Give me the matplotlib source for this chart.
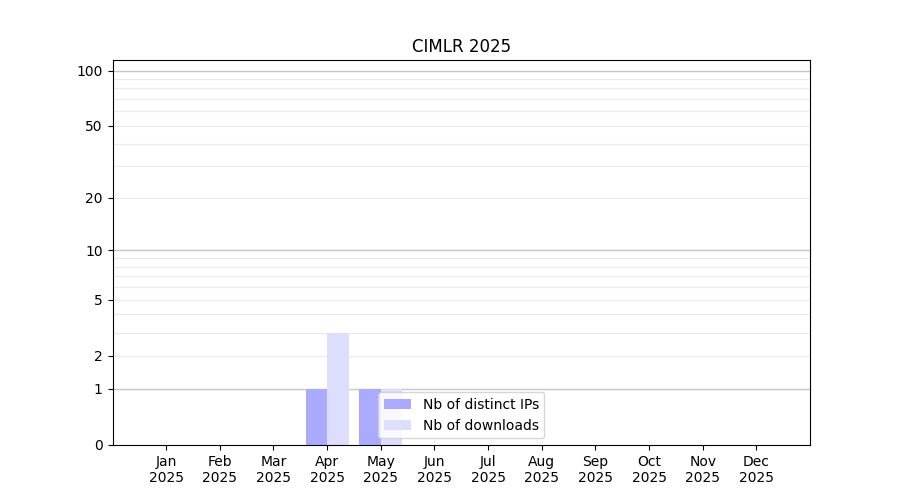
import numpy as np
import matplotlib
matplotlib.use("Agg")
import matplotlib.pyplot as plt

months = ["Jan", "Feb", "Mar", "Apr", "May", "Jun", "Jul", "Aug", "Sep", "Oct", "Nov", "Dec"]
year = "2025"
distinct_ips = [0, 0, 0, 1, 1, 0, 0, 0, 0, 0, 0, 0]
downloads = [0, 0, 0, 3, 1, 0, 0, 0, 0, 0, 0, 0]
ytick_vals = [0, 1, 2, 5, 10, 20, 50, 100]
major_grid = [1, 10, 100]
minor_grid = [2, 3, 4, 5, 6, 7, 8, 9, 20, 30, 40, 50, 60, 70, 80, 90]

def fwd(v):
    return np.log10(np.clip(v, 0, None) + 1)

def inv(v):
    return 10 ** np.asarray(v) - 1

fig, ax = plt.subplots(figsize=(9, 5), dpi=100)
ax.set_yscale('function', functions=(fwd, inv))

x = np.arange(len(months))
w = 0.4
for g in minor_grid:
    ax.axhline(g, color='#ebebeb', lw=0.8, zorder=0)
for g in major_grid:
    ax.axhline(g, color='#c8c8c8', lw=1.0, zorder=0)

ax.bar(x - w, distinct_ips, width=w, align='edge', color='#aaaaff', label='Nb of distinct IPs', zorder=2)
ax.bar(x, downloads, width=w, align='edge', color='#ddddfd', label='Nb of downloads', zorder=2)

ax.set_xlim(-1, 12)
ax.set_ylim(0, 114)
ax.set_yticks(ytick_vals)
ax.set_yticklabels([str(v) for v in ytick_vals])
ax.yaxis.set_minor_locator(matplotlib.ticker.NullLocator())
ax.set_xticks(x)
ax.set_xticklabels([f"{m}\n{year}" for m in months])
ax.set_title("CIMLR 2025")
ax.legend(loc='lower center')

fig.savefig("out.png", dpi=100)
